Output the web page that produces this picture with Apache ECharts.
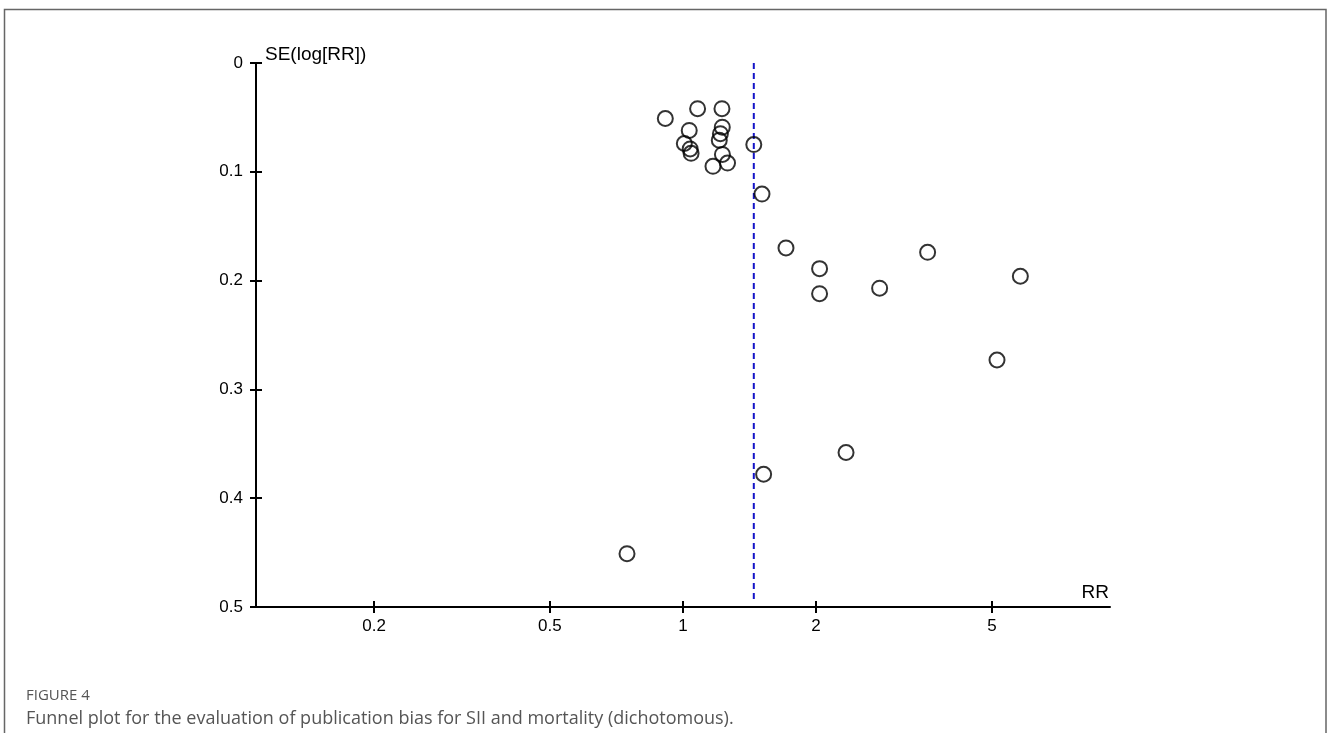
<!DOCTYPE html>
<html>
<head>
<meta charset="utf-8">
<script src="https://cdn.jsdelivr.net/npm/echarts@6/dist/echarts.min.js"></script>
<style>
html,body{margin:0;padding:0;background:#fff;}
#chart{width:1328px;height:733px;}
</style>
</head>
<body>
<div id="chart"></div>
<script>
// Study risk ratios (RR) and their standard errors SE(log[RR])
const rrValues = [0.912, 1.079, 1.225, 1.033, 1.227, 1.215, 1.208, 1.007, 1.038, 1.043, 1.228, 1.261, 1.169, 1.446,
                  1.509, 1.710, 2.037, 2.037, 2.785, 3.576, 5.797, 5.133, 2.338, 1.522, 0.747];
const seValues = [0.051, 0.042, 0.042, 0.062, 0.059, 0.065, 0.071, 0.074, 0.079, 0.083, 0.084, 0.092, 0.095, 0.075,
                  0.1205, 0.170, 0.189, 0.212, 0.207, 0.174, 0.196, 0.273, 0.358, 0.378, 0.451];
const pooledRR = 1.446;
const xTickLabels = [0.2, 0.5, 1, 2, 5];
const yTickLabels = [0, 0.1, 0.2, 0.3, 0.4, 0.5];
const xRangeLog = [-0.966, 0.966];
const yName = 'SE(log[RR])';
const xName = 'RR';
const figLabel = 'FIGURE 4';
const caption = 'Funnel plot for the evaluation of publication bias for SII and mortality (dichotomous).';

const points = rrValues.map((rr, i) => [Math.log10(rr), seValues[i]]);
const pooledLine = [[Math.log10(pooledRR), yTickLabels[0]], [Math.log10(pooledRR), yTickLabels[yTickLabels.length - 1] - 0.005]];
const xTickPos = xTickLabels.map(v => Math.log10(v));

const labelFont = { fontFamily: 'Liberation Sans', fontSize: 17, color: '#000' };
const axisLineStyle = { color: '#000', width: 2 };

function xFmt(v) {
  const r = Math.pow(10, v);
  let best = xTickLabels[0];
  xTickLabels.forEach(t => { if (Math.abs(t - r) < Math.abs(best - r)) best = t; });
  return String(best);
}

const chart = echarts.init(document.getElementById('chart'));
chart.setOption({
  animation: false,
  backgroundColor: '#fff',
  grid: { left: 256, top: 63, width: 854, height: 544, containLabel: false },
  xAxis: [
    {
      type: 'value', position: 'bottom', min: xRangeLog[0], max: xRangeLog[1],
      axisLine: { show: true, onZero: false, lineStyle: axisLineStyle },
      axisTick: { show: true, length: 6, customValues: xTickPos, lineStyle: { color: '#000', width: 2 } },
      axisLabel: { show: true, customValues: xTickPos, margin: 11, formatter: xFmt, ...labelFont },
      splitLine: { show: false }
    },
    {
      type: 'value', position: 'bottom', min: xRangeLog[0], max: xRangeLog[1],
      axisLine: { show: false, onZero: false },
      axisTick: { show: true, inside: true, length: 6, customValues: xTickPos, lineStyle: { color: '#000', width: 2 } },
      axisLabel: { show: false },
      splitLine: { show: false }
    }
  ],
  yAxis: [
    {
      type: 'value', position: 'left', inverse: true, min: 0, max: 0.5, interval: 0.1,
      axisLine: { show: true, onZero: false, lineStyle: axisLineStyle },
      axisTick: { show: true, length: 6, lineStyle: { color: '#000', width: 2 } },
      axisLabel: { show: true, margin: 13, formatter: v => String(Math.round(v * 10) / 10), ...labelFont },
      splitLine: { show: false }
    },
    {
      type: 'value', position: 'left', inverse: true, min: 0, max: 0.5, interval: 0.1,
      axisLine: { show: false, onZero: false },
      axisTick: { show: true, inside: true, length: 6, lineStyle: { color: '#000', width: 2 } },
      axisLabel: { show: false },
      splitLine: { show: false }
    }
  ],
  graphic: [
    { type: 'rect', shape: { x: 4.5, y: 9.5, width: 1321.5, height: 800 }, style: { fill: 'none', stroke: '#666', lineWidth: 1.5 }, silent: true, z: -10 },
    { type: 'text', left: 265, top: 45, style: { text: yName, font: '19px "Liberation Sans"', fill: '#000' } },
    { type: 'text', right: 1328 - 1109, top: 583, style: { text: xName, font: '19px "Liberation Sans"', fill: '#000' } },
    { type: 'text', left: 26, top: 688, style: { text: figLabel, font: '15px "Open Sans"', fill: '#555' } },
    { type: 'text', left: 26, top: 710, style: { text: caption, font: '18px "Open Sans"', fill: '#555' } }
  ],
  series: [
    {
      type: 'line', xAxisIndex: 0, yAxisIndex: 0, data: pooledLine, symbol: 'none', silent: true, z: 1,
      lineStyle: { color: '#1414c8', width: 2, type: [6, 4] }
    },
    {
      type: 'scatter', xAxisIndex: 0, yAxisIndex: 0, data: points, symbol: 'circle', symbolSize: 15, z: 3,
      itemStyle: { color: 'rgba(255,255,255,0)', borderColor: '#000', borderWidth: 2 },
      emphasis: { disabled: true }, silent: true
    }
  ]
});
</script>
</body>
</html>
